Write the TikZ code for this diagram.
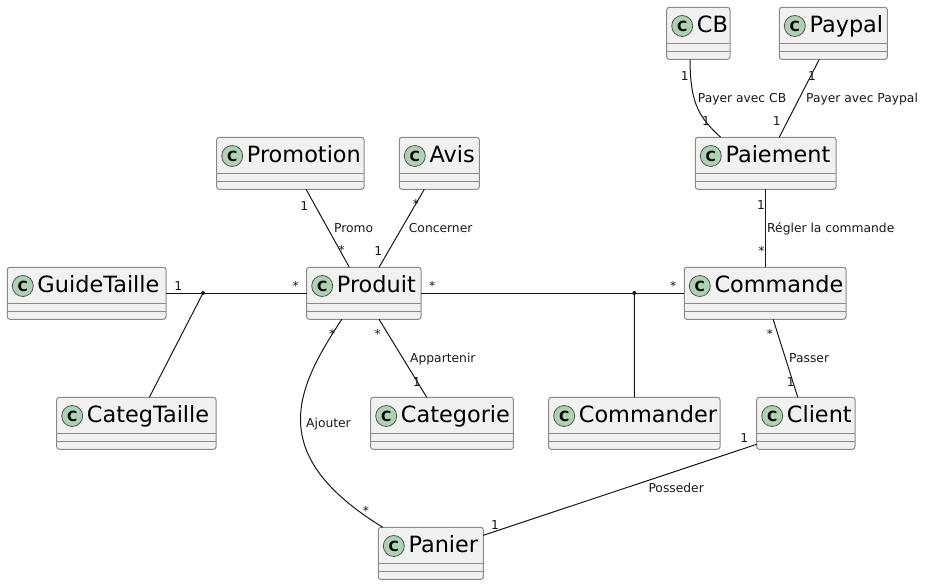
\documentclass[tikz,border=0pt]{standalone}
\usepackage{fontspec}
\setmainfont{DejaVu Sans}
\usepackage{tikz}
\usetikzlibrary{calc}

\definecolor{boxfill}{HTML}{F1F1F1}
\definecolor{boxline}{HTML}{8A8A8A}
\definecolor{spotfill}{HTML}{ADD1B2}
\definecolor{ink}{HTML}{181818}

\tikzset{
  umlbox/.style={draw=boxline, fill=boxfill, line width=1pt, rounded corners=2.5pt,
    minimum height=52pt, inner sep=0pt, outer sep=0pt},
  sepline/.style={draw=boxline, line width=1pt},
  spot/.style={circle, draw=ink!75, fill=spotfill, line width=0.8pt, minimum size=21pt,
    inner sep=0pt, font=\fontsize{14}{14}\selectfont\bfseries},
  clsname/.style={anchor=base west, inner sep=0pt, font=\fontsize{22.4}{26}\selectfont},
  assoc/.style={draw=ink, line width=1pt},
  mult/.style={inner sep=0pt, text=ink, font=\fontsize{12.3}{14}\selectfont},
  lbl/.style={anchor=base west, inner sep=0pt, text=ink, font=\fontsize{12.3}{14}\selectfont},
  joint/.style={fill=ink, circle, inner sep=0pt, minimum size=4pt},
}

% class box: id, name, left, top, width
\newcommand{\umlclass}[5]{%
  \node[umlbox, minimum width=#5pt, anchor=north west] (#1) at (#3,#4) {};
  \draw[sepline] ([yshift=-36pt]#1.north west) -- ([yshift=-36pt]#1.north east);
  \draw[sepline] ([yshift=-44pt]#1.north west) -- ([yshift=-44pt]#1.north east);
  \node[spot] at ([xshift=15.5pt,yshift=-18.7pt]#1.north west) {C};
  \node[clsname] at ([xshift=30pt,yshift=-25.5pt]#1.north west) {#2};
}

\begin{document}
\begin{tikzpicture}[x=1pt, y=-1pt]

\useasboundingbox[fill=white] (0,0) rectangle (930,585);

% Classes
\umlclass{cb}{CB}{666.7}{7.3}{63.3}
\umlclass{paypal}{Paypal}{779.3}{7.3}{108}
\umlclass{paiement}{Paiement}{695.3}{137.3}{140.7}
\umlclass{promotion}{Promotion}{216.7}{137.3}{147.3}
\umlclass{avis}{Avis}{399.3}{137.3}{80}
\umlclass{guidetaille}{GuideTaille}{7.3}{267.3}{158.7}
\umlclass{produit}{Produit}{306.7}{267.3}{114.3}
\umlclass{commande}{Commande}{684.3}{267.3}{161.7}
\umlclass{categtaille}{CategTaille}{56.7}{397.3}{159.3}
\umlclass{categorie}{Categorie}{370.7}{397.3}{142.7}
\umlclass{commander}{Commander}{548.7}{397.3}{171.3}
\umlclass{client}{Client}{756.7}{397.3}{98.3}
\umlclass{panier}{Panier}{378.3}{527.3}{105}

% Paiement side
\draw[assoc] ([xshift=-8.3pt]cb.south) .. controls (690,105) and (700,118) .. ([xshift=-45pt]paiement.north);
\node[mult] at (684.7,76.3) {1};
\node[mult] at (706,120.7) {1};
\node[lbl] at (697.7,103) {Payer avec CB};

\draw[assoc] ([xshift=-14pt]paypal.south) -- ([xshift=13.6pt]paiement.north);
\node[mult] at (812,76.3) {1};
\node[mult] at (776.7,120.7) {1};
\node[lbl] at (806,103) {Payer avec Paypal};

\draw[assoc] (paiement.south) -- (paiement.south |- commande.north);
\node[mult] at (761,205.5) {1};
\node[mult] at (761.5,250.5) {*};
\node[lbl] at (767,232.5) {Régler la commande};

% Produit associations
\draw[assoc] ([xshift=15.7pt]promotion.south) -- ([xshift=-14.5pt]produit.north);
\node[mult] at (304.3,206.3) {1};
\node[mult] at (341.7,249.5) {*};
\node[lbl] at (334,233) {Promo};

\draw[assoc] ([xshift=-15pt]avis.south) -- ([xshift=15.2pt]produit.north);
\node[mult] at (416,204) {*};
\node[mult] at (378.3,251.5) {1};
\node[lbl] at (408.7,233) {Concerner};

\draw[assoc] (guidetaille.east) -- (produit.west);
\coordinate (gtjoint) at (203,293);
\node[joint] at (gtjoint) {};
\draw[assoc] (gtjoint) -- ([xshift=13pt]categtaille.north);
\node[mult] at (178.3,285.7) {1};
\node[mult] at (295.7,285.5) {*};

\draw[assoc] (produit.east) -- (commande.west);
\coordinate (cmdjoint) at (634.3,293);
\node[joint] at (cmdjoint) {};
\draw[assoc] (cmdjoint) -- (commander.north);
\node[mult] at (432.3,285.5) {*};
\node[mult] at (673.3,285.5) {*};

\draw[assoc] ([xshift=15.2pt]produit.south) -- ([xshift=-15.3pt]categorie.north);
\node[mult] at (377.7,334) {*};
\node[mult] at (416.7,381.7) {1};
\node[lbl] at (410,362.5) {Appartenir};

\draw[assoc] ([xshift=-22pt]produit.south) .. controls (295,390) and (265,455) .. ([xshift=-48pt]panier.north);
\node[mult] at (332.3,334) {*};
\node[mult] at (366,511) {*};
\node[lbl] at (306,427.5) {Ajouter};

% Client side
\draw[assoc] ([xshift=8pt]commande.south) -- ([xshift=-8.1pt]client.north);
\node[mult] at (770,334) {*};
\node[mult] at (790.7,381.7) {1};
\node[lbl] at (789,362.5) {Passer};

\draw[assoc] ([yshift=-21pt]client.west) -- ([yshift=18pt]panier.east);
\node[mult] at (744.3,438.3) {1};
\node[mult] at (495,525) {1};
\node[lbl] at (648.3,493) {Posseder};

\end{tikzpicture}
\end{document}
